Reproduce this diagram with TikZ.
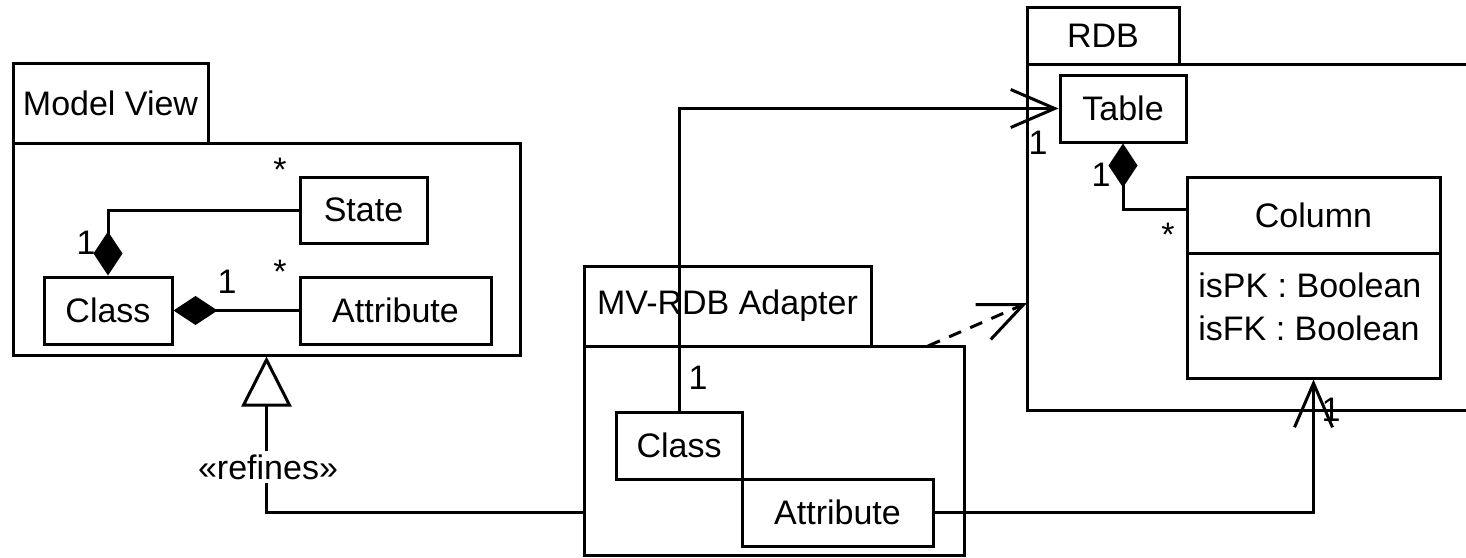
\documentclass[tikz,border=0pt]{standalone}
\usepackage{fontspec}
\setmainfont{Liberation Sans}
\usetikzlibrary{fit,arrows.meta}
\tikzset{
  box/.style={draw, line width=1.5pt, inner sep=0pt, fit={#1}},
  lbl/.style={inner sep=0pt},
  conn/.style={line width=1.5pt},
  comp/.style={conn, -{Diamond[length=22pt, width=14.5pt, line join=miter]}},
  nav/.style={conn, -{Straight Barb[length=22pt, width=19pt]}},
  gen/.style={conn, -{Triangle[open, length=25pt, width=25pt, fill=white]}},
  txt/.style={label={[inner sep=0pt]center:#1}},
}
\begin{document}
\begin{tikzpicture}[x=0.5pt, y=-0.5pt, font=\fontsize{17}{20}\selectfont, line join=miter]
\useasboundingbox (0,0) rectangle (1466,557);
\clip (0,0) rectangle (1466,557);
% Model View package
\node[box={(13,63) (208,143)}, txt={Model View}] (mvtab) {};
\node[box={(13,143) (520,355)}] (mvbody) {};
\node[box={(300,177) (427,243)}, txt=State] (state) {};
\node[box={(44,277) (172,344)}, txt=Class] (mvclass) {};
\node[box={(300,277) (491,344)}, txt=Attribute] (mvattr) {};
% MV-RDB Adapter package
\node[box={(584,266) (871,346)}, txt={MV-RDB Adapter}] (adtab) {};
\node[box={(584,346) (964,555)}] (adbody) {};
\node[box={(616,412) (742,479)}, txt=Class] (aclass) {};
\node[box={(742,479) (933,546)}, txt=Attribute] (aattr) {};
% RDB package
\node[box={(1027,7) (1179,64)}, txt=RDB] (rdbtab) {};
\node[box={(1027,64) (1500,410)}] (rdbbody) {};
\node[box={(1060,75) (1186,142)}, txt=Table] (table) {};
\node[box={(1187,177) (1440,253)}, txt=Column] (colhead) {};
\node[box={(1187,253) (1440,378)}] (colattr) {};
\node[lbl, anchor=base west] (ispk) at (1198,297.5) {isPK : Boolean};
\node[lbl, anchor=base west] (isfk) at (1198,340) {isFK : Boolean};
% connectors
\draw[comp] (state.west) -| (mvclass.north);
\draw[comp] (mvattr.west) -- (mvclass.east);
\draw[comp] (colhead.west |- 0,209) -| (table.south);
\draw[gen] (adbody.west |- aattr.west) -| (mvbody.south);
\draw[nav] (aclass.north) |- (table.west);
\draw[nav] (aattr.east) -| (colattr.south);
\coordinate (dstart) at (928,346);
\coordinate (dend) at (1027,303);
\draw[nav, dash pattern=on 6.5pt off 5pt] (dstart) -- (dend);
% labels
\node[lbl] (m1) at (280,170) {*};
\node[lbl] (m2) at (86,243) {1};
\node[lbl] (m3) at (227,281.5) {1};
\node[lbl] (m4) at (280,272) {*};
\node[lbl] (m5) at (1038,142.5) {1};
\node[lbl] (m6) at (1101,175) {1};
\node[lbl] (m7) at (1168,235) {*};
\node[lbl] (m8) at (698,378) {1};
\node[lbl] (m9) at (1331,410) {1};
\node[fill=white, inner sep=2pt] (refines) at (268,467) {«refines»};
\end{tikzpicture}
\end{document}
